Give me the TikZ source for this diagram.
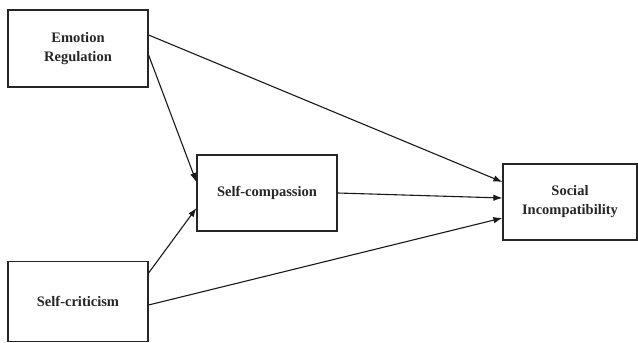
\documentclass[tikz,border=0pt]{standalone}
\usepackage{fontspec}
\setmainfont{Liberation Serif}
\usetikzlibrary{arrows.meta}
\begin{document}
\begin{tikzpicture}[x=1pt,y=1pt,
  box/.style={draw=black!85,line width=1.2pt,inner sep=0pt,align=center,
    font=\bfseries\fontsize{14.5}{19}\selectfont,text=black!85},
  link/.style={draw=black!90,line width=1.1pt,-{Latex[length=9pt,width=6.5pt]}}]
\useasboundingbox (0,0) rectangle (638,343);
\node[box,minimum width=140,minimum height=77] (er) at (78,294.5) {Emotion\\Regulation};
\node[box,minimum width=140,minimum height=76] (sc) at (267,150) {Self-compassion};
\node[box,minimum width=134,minimum height=76] (si) at (570,141) {Social\\Incompatibility};
\node[box,minimum width=140,minimum height=80] (cr) at (78,41.5) {Self-criticism};
\draw[link] ([yshift=13.5]er.east) -- ([yshift=20]si.west);
\draw[link] ([yshift=-6.5]er.east) -- ([yshift=11]sc.west);
\draw[link] ([yshift=28.5]cr.east) -- ([yshift=-15]sc.west);
\draw[link] (sc.east) -- ([yshift=4]si.west);
\draw[link] ([yshift=-3.5]cr.east) -- ([yshift=-16]si.west);
\end{tikzpicture}
\end{document}
